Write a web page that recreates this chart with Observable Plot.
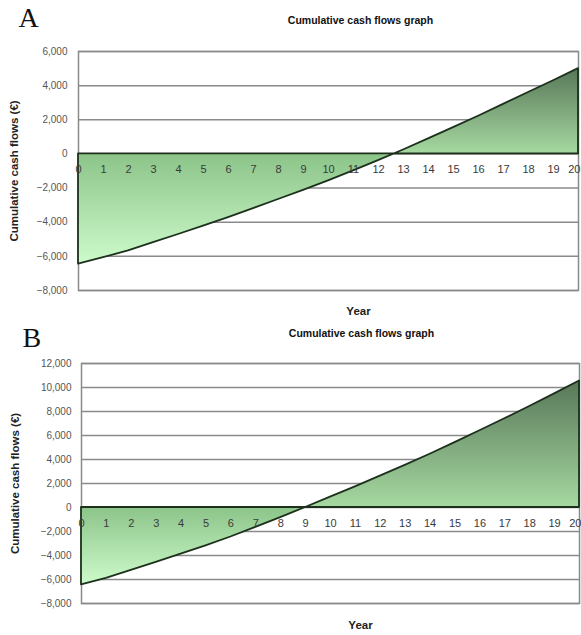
<!DOCTYPE html>
<html>
<head>
<meta charset="utf-8">
<script src="https://cdn.jsdelivr.net/npm/d3@7"></script>
<script src="https://cdn.jsdelivr.net/npm/@observablehq/plot@0.6"></script>
<style>
  html, body { margin: 0; padding: 0; background: #fff; width: 581px; height: 635px; overflow: hidden; }
  #wrap svg { display: block; }
</style>
</head>
<body>
<div id="wrap"></div>
<script>
// ---- data ----
const years = [0,1,2,3,4,5,6,7,8,9,10,11,12,13,14,15,16,17,18,19,20];
const yearLabels = ["0","1","2","3","4","5","6","7","8","9","10","11","12","13","14","15","16","17","18","19","20"];
const cumulativeA = [-6450,-6080,-5680,-5200,-4720,-4230,-3730,-3200,-2670,-2140,-1580,-990,-390,230,880,1540,2210,2900,3600,4290,5000];
const cumulativeB = [-6440,-5900,-5240,-4580,-3890,-3190,-2460,-1660,-840,0,860,1720,2610,3510,4440,5410,6400,7400,8420,9470,10540];
const yTicksA = [-8000,-6000,-4000,-2000,0,2000,4000,6000];
const yTicksB = [-8000,-6000,-4000,-2000,0,2000,4000,6000,8000,10000,12000];
const panelLetters = ["A","B"];
const chartTitle = "Cumulative cash flows graph";
const yTitle = "Cumulative cash flows (€)";
const xTitle = "Year";

const narrow = '"Liberation Sans Narrow","Arial Narrow","Liberation Sans",Arial,sans-serif';
const sans = '"Liberation Sans",Arial,sans-serif';

function panel(cfg) {
  const data = years.map((y, i) => ({year: y, value: cfg.values[i]}));
  const last = years.length - 1;
  const chart = Plot.plot({
    width: 581,
    height: cfg.height,
    marginTop: cfg.mt,
    marginBottom: cfg.mb,
    marginLeft: cfg.ml,
    marginRight: cfg.mr,
    style: {fontFamily: narrow, fontSize: "10px", color: "#555", background: "#fff"},
    x: {domain: [0, 20], axis: null},
    y: {
      domain: [cfg.yTicks[0], cfg.yTicks[cfg.yTicks.length - 1]],
      ticks: cfg.yTicks,
      tickSize: 0,
      tickPadding: cfg.tickPad,
      tickFormat: d3.format(","),
      label: null
    },
    marks: [
      Plot.ruleY(cfg.yTicks, {stroke: "#8a8a8a", strokeWidth: 1.5}),
      Plot.frame({stroke: "#8a8a8a", strokeWidth: 1.5}),
      Plot.areaY(data, {x: "year", y1: 0, y2: "value", fill: `url(#${cfg.gid})`, stroke: "#1c301c", strokeWidth: 1.8}),
      Plot.text(years.slice(0, last), {x: d => d, y: 0, dy: 16, text: (d, i) => yearLabels[i], fill: "#3a3a3a", fontSize: 11, fontFamily: narrow}),
      Plot.text([years[last]], {x: d => d, y: 0, dy: 16, dx: 2, textAnchor: "end", text: () => yearLabels[last], fill: "#3a3a3a", fontSize: 11, fontFamily: narrow}),
      Plot.text([chartTitle], {frameAnchor: "top", lineAnchor: "middle", dx: cfg.titleDx, dy: cfg.titleDy, fontWeight: "bold", fontSize: 10.5, fontFamily: sans, fill: "#111"}),
      Plot.text([cfg.letter], {frameAnchor: "top-left", textAnchor: "start", lineAnchor: "middle", dx: cfg.letterDx, dy: cfg.letterDy, fontSize: 28, fontFamily: '"Liberation Serif","Times New Roman",serif', fill: "#111"}),
      Plot.text([yTitle], {frameAnchor: "left", textAnchor: "middle", lineAnchor: "middle", rotate: -90, dx: cfg.ylabDx, fontWeight: "bold", fontSize: 11.5, fontFamily: sans, fill: "#222"}),
      Plot.text([xTitle], {frameAnchor: "bottom", lineAnchor: "middle", dx: cfg.xlabDx, dy: cfg.xlabDy, fontWeight: "bold", fontSize: 11.5, fontFamily: sans, fill: "#222"})
    ]
  });
  // gradient fill: dark green at top, light at zero; negative part medium at zero -> very light at bottom
  const y = chart.scale("y");
  const vmax = d3.max(cfg.values), vmin = d3.min(cfg.values);
  const yTop = y.apply(vmax), yBot = y.apply(vmin), yZero = y.apply(0);
  const z = (yZero - yTop) / (yBot - yTop);
  const ns = "http://www.w3.org/2000/svg";
  const defs = document.createElementNS(ns, "defs");
  const g = document.createElementNS(ns, "linearGradient");
  g.setAttribute("id", cfg.gid);
  g.setAttribute("gradientUnits", "userSpaceOnUse");
  g.setAttribute("x1", 0); g.setAttribute("x2", 0);
  g.setAttribute("y1", yTop); g.setAttribute("y2", yBot);
  const stops = [[0, "#587758"], [z, "#a6d9a1"], [z, "#8cc489"], [1, "#cdfbcb"]];
  for (const [o, c] of stops) {
    const s = document.createElementNS(ns, "stop");
    s.setAttribute("offset", o);
    s.setAttribute("stop-color", c);
    g.appendChild(s);
  }
  defs.appendChild(g);
  chart.insertBefore(defs, chart.firstChild);
  return chart;
}

const wrap = document.getElementById("wrap");
wrap.appendChild(panel({
  letter: panelLetters[0], values: cumulativeA, yTicks: yTicksA, gid: "gradA",
  height: 317, mt: 51, mb: 27, ml: 78, mr: 3, tickPad: 11,
  titleDx: 32, titleDy: -31, letterDx: -60, letterDy: -33, ylabDx: -64, xlabDx: 30, xlabDy: 21
}));
wrap.appendChild(panel({
  letter: panelLetters[1], values: cumulativeB, yTicks: yTicksB, gid: "gradB",
  height: 318, mt: 46, mb: 32, ml: 81, mr: 2, tickPad: 10,
  titleDx: 31, titleDy: -30, letterDx: -59, letterDy: -25, ylabDx: -66, xlabDx: 30, xlabDy: 22
}));
</script>
</body>
</html>
